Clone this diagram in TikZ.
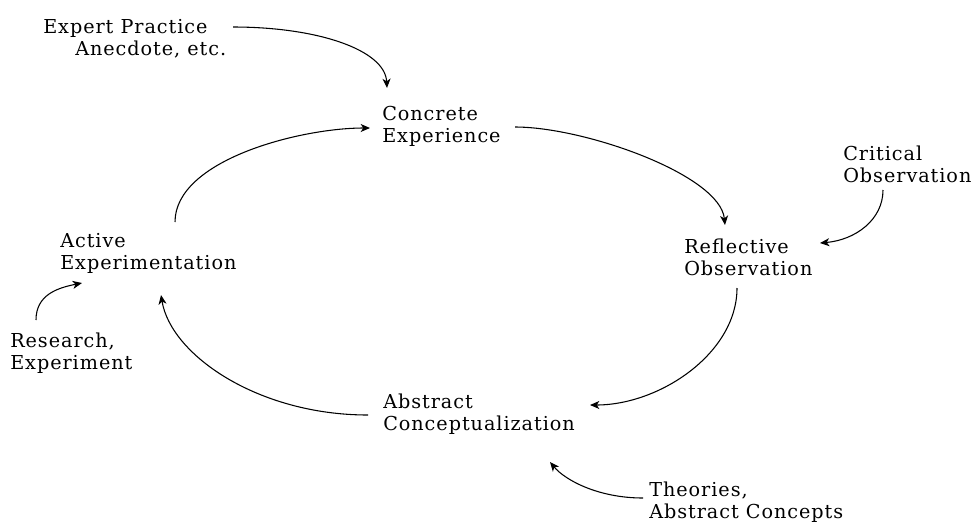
\documentclass[tikz,border=0pt]{standalone}
\usepackage{fontspec}
\setmainfont{DejaVu Serif}[LetterSpace=5]
\usetikzlibrary{arrows.meta}

\begin{document}
\begin{tikzpicture}[x=0.75pt,y=-0.75pt,
  lbl/.style={anchor=base west,align=left,inner sep=0pt,
    font=\fontsize{14.4}{16.5}\selectfont},
  link/.style={line width=0.8pt,-{Stealth[length=7pt,width=6pt,inset=2pt]}}
]
\useasboundingbox (0,0) rectangle (977,522);

% the four stages
\node[lbl] (concrete) at (382,142) {Concrete\\Experience};
\node[lbl] (reflective) at (684,275) {Reflective\\Observation};
\node[lbl] (abstract) at (383,430) {Abstract\\Conceptualization};
\node[lbl] (active) at (60,269) {Active\\Experimentation};

% sources
\node[lbl] (expert) at (43,55) {Expert Practice\\\hspace*{24pt}Anecdote, etc.};
\node[lbl] (critical) at (843,182) {Critical\\Observation};
\node[lbl] (theories) at (649,518) {Theories,\\Abstract Concepts};
\node[lbl] (research) at (10,369) {Research,\\Experiment};

% cycle
\draw[link] ([shift={(133,-15)}]concrete.base west) .. controls +(70,0) and +(-5,-50) .. ([shift={(41,-50)}]reflective.base west);
\draw[link] ([shift={(53,13)}]reflective.base west) .. controls +(0,65) and +(70,0) .. ([shift={(207,-25)}]abstract.base west);
\draw[link] ([shift={(-15,-15)}]abstract.base west) .. controls +(-110,0) and +(10,60) .. ([shift={(101,26)}]active.base west);
\draw[link] ([shift={(115,-47)}]active.base west) .. controls +(0,-62) and +(-70,0) .. ([shift={(-12,-14)}]concrete.base west);

% inputs
\draw[link] ([shift={(190,-28)}]expert.base west) .. controls +(85,0) and +(-2,-38) .. ([shift={(5,-54)}]concrete.base west);
\draw[link] ([shift={(40,8)}]critical.base west) .. controls +(0,30) and +(35,-3) .. ([shift={(136,-32)}]reflective.base west);
\draw[link] ([shift={(-6,-20)}]theories.base west) .. controls +(-45,0) and +(15,18) .. ([shift={(167,32)}]abstract.base west);
\draw[link] ([shift={(26,-49)}]research.base west) .. controls +(0,-25) and +(-25,5) .. ([shift={(22,14)}]active.base west);
\end{tikzpicture}
\end{document}
